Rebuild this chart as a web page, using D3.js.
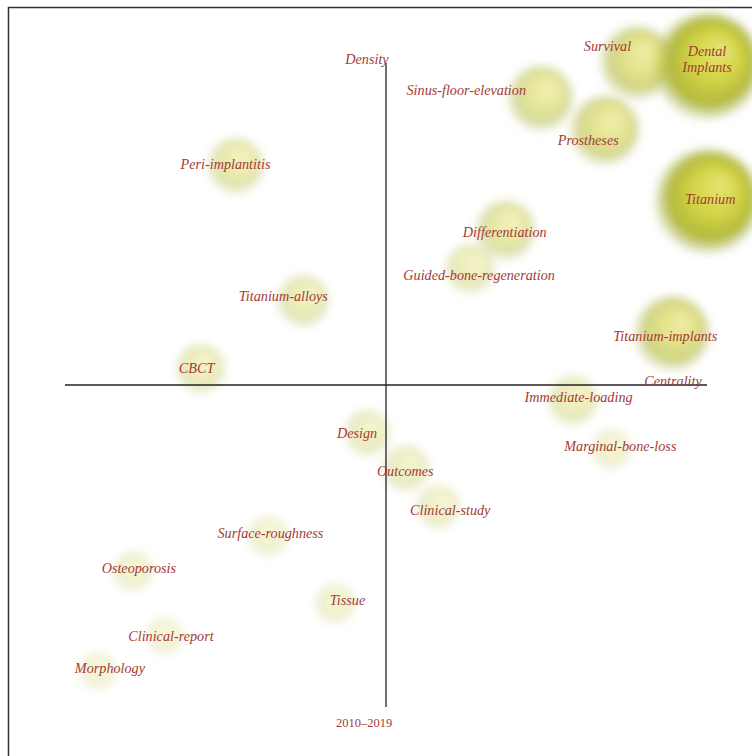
<!DOCTYPE html>
<html>
<head>
<meta charset="utf-8">
<script src="https://cdn.jsdelivr.net/npm/d3@7"></script>
<style>
  body { margin: 0; background: #fff; }
  text { font-family: "Liberation Serif", "DejaVu Serif", serif; }
</style>
</head>
<body>
<svg id="chart"></svg>
<script>
// keywords of the thematic map (2010-2019)
const keywords = ['Dental\nImplants', 'Survival', 'Sinus-floor-elevation', 'Prostheses', 'Titanium',
  'Peri-implantitis', 'Differentiation', 'Guided-bone-regeneration', 'Titanium-alloys',
  'Titanium-implants', 'CBCT', 'Immediate-loading', 'Marginal-bone-loss', 'Design', 'Outcomes',
  'Clinical-study', 'Surface-roughness', 'Osteoporosis', 'Tissue', 'Clinical-report', 'Morphology'];

// centrality (x) and density (y), relative to the axis centre
const centrality = [1.00, 0.78, 0.48, 0.68, 1.00, -0.47, 0.37, 0.26, -0.26, 0.89, -0.58, 0.58, 0.70,
  -0.06, 0.06, 0.16, -0.37, -0.79, -0.16, -0.69, -0.90];
const density = [0.99, 1.00, 0.89, 0.79, 0.57, 0.68, 0.48, 0.36, 0.26, 0.16, 0.05, -0.05, -0.20,
  -0.15, -0.26, -0.38, -0.47, -0.58, -0.68, -0.78, -0.89];
// cluster frequency
const frequency = [104, 49, 39, 44, 100, 28, 32, 22, 24, 51, 22, 22, 14, 19, 19, 17, 14, 14, 14, 12, 12];

// label anchor (from the repel layout)
const labelX = [1.00, 0.69, 0.25, 0.63, 1.01, -0.50, 0.37, 0.29, -0.32, 0.87, -0.59, 0.60, 0.73,
  -0.09, 0.06, 0.20, -0.36, -0.77, -0.12, -0.67, -0.86];
const labelY = [1.01, 1.05, 0.915, 0.76, 0.575, 0.685, 0.475, 0.34, 0.275, 0.15, 0.05, -0.04, -0.19,
  -0.15, -0.27, -0.39, -0.46, -0.57, -0.67, -0.78, -0.88];

const axisLabels = { x: 'Centrality', y: 'Density', period: '2010–2019' };

const width = 752, height = 756;
const svg = d3.select('#chart').attr('width', width).attr('height', height);

const x = d3.scaleLinear().domain([-1, 1]).range([65, 707]);
const y = d3.scaleLinear().domain([-1, 1]).range([707, 63]);
const r = d3.scaleSqrt().domain([0, 100]).range([0, 53]);
const alpha = d3.scalePow().exponent(0.6).domain([12, 100]).range([0.22, 1]).clamp(true);

const defs = svg.append('defs');
const grad = defs.append('radialGradient').attr('id', 'bubble')
  .attr('cx', '50%').attr('cy', '50%').attr('r', '50%')
  .attr('fx', '64%').attr('fy', '34%');
grad.append('stop').attr('offset', '0%').attr('stop-color', '#e8e47a');
grad.append('stop').attr('offset', '40%').attr('stop-color', '#d6d648');
grad.append('stop').attr('offset', '75%').attr('stop-color', '#b2b93a');
grad.append('stop').attr('offset', '100%').attr('stop-color', '#a3aa58').attr('stop-opacity', 0);

defs.append('filter').attr('id', 'soft')
  .attr('x', '-40%').attr('y', '-40%').attr('width', '180%').attr('height', '180%')
  .append('feGaussianBlur').attr('stdDeviation', 4.5);

// frame
svg.append('rect')
  .attr('x', 8.5).attr('y', 7.5).attr('width', 760).attr('height', 760)
  .attr('fill', 'none').attr('stroke', '#333').attr('stroke-width', 1.5);

const data = keywords.map((k, i) => ({
  name: k, cx: centrality[i], cy: density[i], f: frequency[i], lx: labelX[i], ly: labelY[i]
}));

svg.append('g').selectAll('circle')
  .data(data)
  .join('circle')
  .attr('cx', d => x(d.cx))
  .attr('cy', d => y(d.cy))
  .attr('r', d => r(d.f) + 2)
  .attr('fill', 'url(#bubble)')
  .attr('opacity', d => alpha(d.f))
  .attr('filter', 'url(#soft)');

// axes through the centre
svg.append('line')
  .attr('x1', x(-1)).attr('x2', x(1)).attr('y1', y(0)).attr('y2', y(0))
  .attr('stroke', '#222').attr('stroke-width', 1.3);
svg.append('line')
  .attr('x1', x(0)).attr('x2', x(0)).attr('y1', y(-1)).attr('y2', y(1))
  .attr('stroke', '#222').attr('stroke-width', 1.3);

const red = '#a33b36';

const labels = svg.append('g')
  .attr('fill', red).attr('font-style', 'italic').attr('font-size', 14.2)
  .attr('text-anchor', 'middle');
labels.selectAll('text')
  .data(data)
  .join('text')
  .attr('x', d => x(d.lx))
  .attr('y', d => y(d.ly))
  .each(function (d) {
    const lines = d.name.split('\n');
    const t = d3.select(this);
    lines.forEach((ln, j) => {
      t.append('tspan')
        .attr('x', x(d.lx))
        .attr('dy', j === 0 ? (4.5 - (lines.length - 1) * 8) : 16)
        .text(ln);
    });
  });

svg.append('text')
  .attr('x', x(0) - 19).attr('y', y(1) + 1)
  .attr('text-anchor', 'middle').attr('fill', red)
  .attr('font-style', 'italic').attr('font-size', 14.2)
  .text(axisLabels.y);
svg.append('text')
  .attr('x', x(1) - 34).attr('y', y(0) + 1)
  .attr('text-anchor', 'middle').attr('fill', red)
  .attr('font-style', 'italic').attr('font-size', 14.2)
  .text(axisLabels.x);
svg.append('text')
  .attr('x', x(0) - 22).attr('y', y(-1) + 20)
  .attr('text-anchor', 'middle').attr('fill', red)
  .attr('font-size', 12.5)
  .text(axisLabels.period);
</script>
</body>
</html>
